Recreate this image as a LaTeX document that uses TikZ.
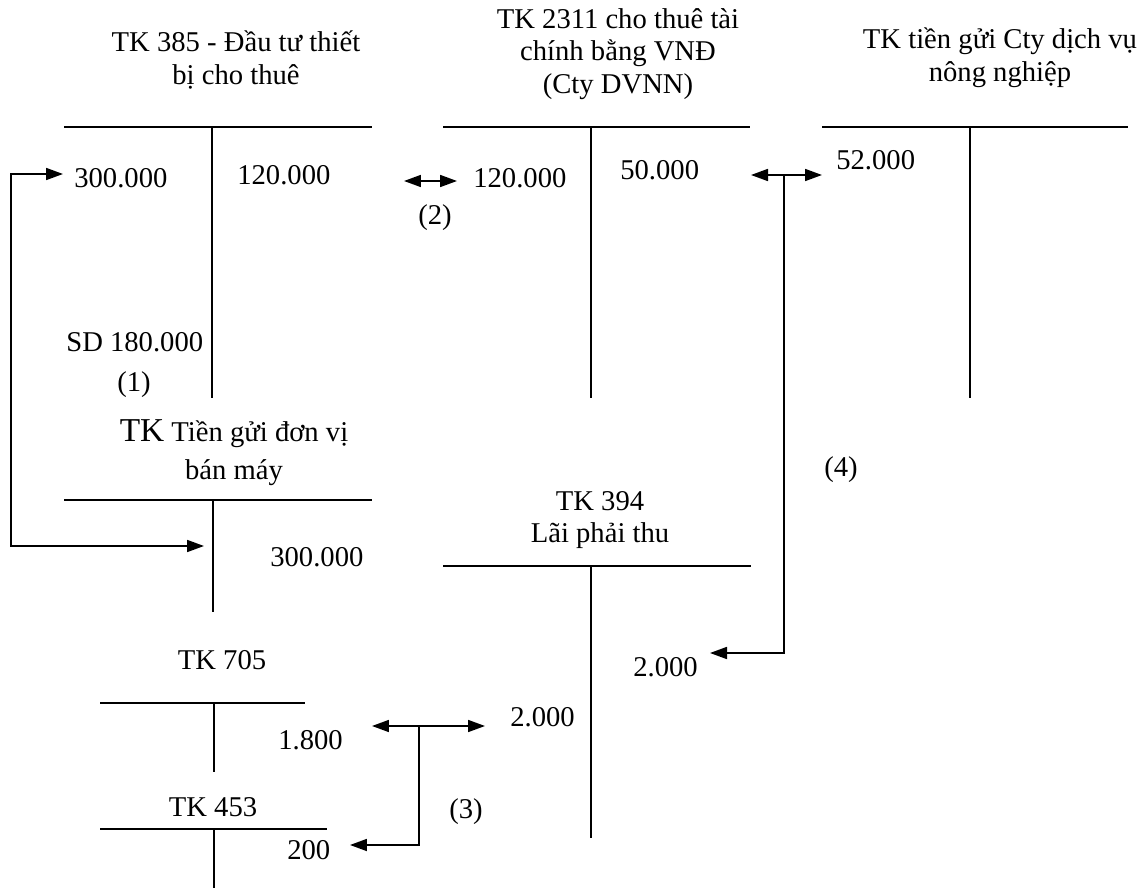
\documentclass[tikz,border=0pt]{standalone}
\usepackage{fontspec}
\setmainfont{Liberation Serif}
\usepackage{tikz}
\usetikzlibrary{arrows.meta, positioning, calc}

\tikzset{
  acct/.style={line width=1.2pt},
  flow/.style={line width=1pt, -{Triangle[length=0.34cm,width=0.24cm]}},
  both/.style={line width=1pt, {Triangle[length=0.34cm,width=0.24cm]}-{Triangle[length=0.34cm,width=0.24cm]}},
  amt/.style={right, inner sep=0pt},
  ttl/.style={align=center, inner sep=0pt}
}

\begin{document}
\begin{tikzpicture}[x=0.02cm, y=-0.02cm, font=\fontsize{16.3}{18.6}\selectfont]
    \useasboundingbox (0,0) rectangle (1144,892);

    % TK 385
    \node[ttl] (t385) at (236,60) {TK 385 - Đầu tư thiết\\bị cho thuê};
    \draw[acct] (64,127) -- (372,127);
    \draw[acct] (212,127) -- (212,398);
    \node[amt] (n300a) at (74,178) {300.000};
    \node[amt] (n120a) at (237,175) {120.000};
    \node[amt] (sd) at (66,342) {SD 180.000};
    \node (lb1) at (134,385) {(1)};

    % TK 2311
    \node[ttl] (t2311) at (618,54) {TK 2311 cho thuê tài\\chính bằng VNĐ\\(Cty DVNN)};
    \draw[acct] (443,127) -- (750,127);
    \draw[acct] (591,127) -- (591,398);
    \node[amt] (n120b) at (473,178) {120.000};
    \node[amt] (n50) at (620,170) {50.000};

    % TK tien gui Cty dich vu
    \node[ttl] (tcty) at (1000,58) {TK tiền gửi Cty dịch vụ\\nông nghiệp};
    \draw[acct] (822,127) -- (1128,127);
    \draw[acct] (970,127) -- (970,398);
    \node[amt] (n52) at (836,160) {52.000};

    % TK tien gui don vi ban may
    \node[ttl] (tban) at (234,453) {{\fontsize{19}{18.6}\selectfont TK} Tiền gửi đơn vị\\[3pt]bán máy};
    \draw[acct] (64,500) -- (372,500);
    \draw[acct] (213,500) -- (213,612);
    \node[amt] (n300b) at (270,557) {300.000};

    % TK 394
    \node[ttl] (t394) at (600,520) {TK 394\\Lãi phải thu};
    \draw[acct] (443,566) -- (751,566);
    \draw[acct] (591,566) -- (591,838);
    \node[amt] (n2a) at (633,667) {2.000};
    \node[amt] (n2b) at (510,717) {2.000};

    % TK 705
    \node (t705) at (222,660) {TK 705};
    \draw[acct] (100,703) -- (305,703);
    \draw[acct] (214,703) -- (214,772);
    \node[amt] (n18) at (278,740) {1.800};

    % TK 453
    \node (t453) at (213,807) {TK 453};
    \draw[acct] (100,829) -- (327,829);
    \draw[acct] (214,829) -- (214,888);
    \node[amt] (n200) at (287,850) {200};

    % (1)
    \coordinate (p1a) at (63,174);
    \coordinate (p1b) at (11,174);
    \coordinate (p1c) at (11,546);
    \coordinate (p1d) at (204,546);
    \draw[both] (p1a) -- (p1b) -- (p1c) -- (p1d);

    % (2)
    \coordinate (p2a) at (404,181);
    \coordinate (p2b) at (457,181);
    \draw[both] (p2a) -- (p2b);
    \node (lb2) at (435,218) {(2)};

    % (3)
    \coordinate (p3a) at (372,726);
    \coordinate (p3b) at (485,726);
    \coordinate (p3c) at (419,726);
    \coordinate (p3d) at (419,845);
    \coordinate (p3e) at (350,845);
    \draw[both] (p3a) -- (p3b);
    \draw[flow] (p3c) -- (p3d) -- (p3e);
    \node (lb3) at (466,812) {(3)};

    % (4)
    \coordinate (p4a) at (751,175);
    \coordinate (p4b) at (822,175);
    \coordinate (p4c) at (784,175);
    \coordinate (p4d) at (784,653);
    \coordinate (p4e) at (710,653);
    \draw[both] (p4a) -- (p4b);
    \draw[flow] (p4c) -- (p4d) -- (p4e);
    \node (lb4) at (841,470) {(4)};
\end{tikzpicture}
\end{document}
